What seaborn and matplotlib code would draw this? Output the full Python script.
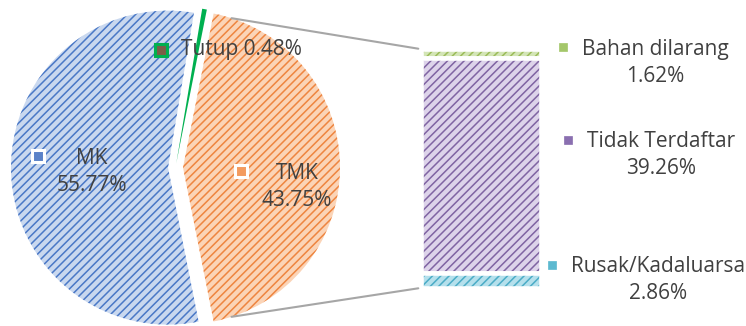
import matplotlib
matplotlib.use("Agg")
import matplotlib.pyplot as plt
from matplotlib.patches import ConnectionPatch
import numpy as np
import seaborn as sns

# pie data (order as drawn clockwise starting at the lower edge of TMK)
pie_labels = ["MK", "Tutup", "TMK"]
pie_values = [55.77, 0.48, 43.75]

# breakdown of TMK, top to bottom
bar_labels = ["Bahan dilarang", "Tidak Terdaftar", "Rusak/Kadaluarsa"]
bar_values = [1.62, 39.26, 2.86]

W, H = 746, 326
TEXT = "#404040"
FS = 15
LSP = 1.42

sns.set_theme(style="white")
plt.rcParams["font.family"] = ["Open Sans", "DejaVu Sans"]
plt.rcParams["hatch.linewidth"] = 1.1

fig = plt.figure(figsize=(W / 100, H / 100), dpi=100)

# pie axis in pixel coordinates (y measured from the bottom)
ax = fig.add_axes([0, 0, 1, 1])

pie_fill = ["#c9d8ef", "#00b050", "#fbd4b7"]
pie_hatch = ["#4a78c6", "#00b050", "#ee8540"]
wedges, _ = ax.pie(pie_values, colors=pie_fill, startangle=281.25, counterclock=False,
                   center=(175.5, H - 167.5), radius=157, explode=[7.5, 4, 7.5],
                   frame=True)
ax.set_xlim(0, W)
ax.set_ylim(0, H)
ax.set_aspect("equal")
ax.set_axis_off()
for w, hc in zip(wedges, pie_hatch):
    w.set_edgecolor(hc)
    w.set_linewidth(0)
    if hc != "#00b050":
        w.set_hatch("////")

# labels inside the pie
def key(x, y, face, edge, ms=8, mew=2.2):
    ax.plot([x], [H - y], marker="s", ms=ms, mfc=face, mec=edge, mew=mew, ls="none")

key(38, 156, "#5b82c8", "white")
ax.text(92, H - 172, "MK\n55.77%", ha="center", va="center", fontsize=FS,
        color=TEXT, linespacing=LSP)
key(241, 171, "#f39b5f", "white")
ax.text(297, H - 187, "TMK\n43.75%", ha="center", va="center", fontsize=FS,
        color=TEXT, linespacing=LSP)
key(161, 50, "#7b5e48", "#00b050", ms=8, mew=2.2)
ax.text(181, H - 50, "Tutup 0.48%", ha="left", va="center", fontsize=FS, color=TEXT)

# stacked bar for the TMK breakdown
bx = fig.add_axes([420.7 / W, (H - 288.3) / H, 120.6 / W, 239.6 / H])
bx.set_axis_off()
bar_fill = ["#d3e5b6", "#ddd3ea", "#b5e0ec"]
bar_hatch = ["#9bbb59", "#8064a2", "#4bacc6"]
total = sum(bar_values)
bottoms = total - np.cumsum(bar_values)
for v, b, fc, hc in zip(bar_values, bottoms, bar_fill, bar_hatch):
    bx.bar(0, v, bottom=b, width=1, color=fc, edgecolor=hc, linewidth=0, hatch="////")
    bx.bar(0, v, bottom=b, width=1, fill=False, edgecolor="white", linewidth=3.3)
bx.set_xlim(-0.5, 0.5)
bx.set_ylim(0, total)

# connector lines from TMK to the bar
tmk = wedges[2]
cx, cy = tmk.center
r = tmk.r
for ang, yb in [(72, total), (-72, 0)]:
    pa = (cx + r * np.cos(np.radians(ang)), cy + r * np.sin(np.radians(ang)))
    con = ConnectionPatch(xyA=pa, coordsA=ax.transData, xyB=(-0.52, yb),
                          coordsB=bx.transData, color="#a6a6a6", lw=1.5)
    fig.add_artist(con)

# labels on the right
bar_keys = ["#a4c76a", "#8a6fb0", "#5cb9d0"]
key_pos = [(563, 47), (568, 140), (552, 265)]
text_pos = [(655, 63), (661, 155), (658, 280)]
for lab, v, kc, (kx, ky), (tx, ty) in zip(bar_labels, bar_values, bar_keys, key_pos, text_pos):
    key(kx, ky, kc, kc, ms=5.5, mew=0.5)
    ax.text(tx, H - ty, f"{lab}\n{v:.2f}%", ha="center", va="center", fontsize=FS,
            color=TEXT, linespacing=LSP)

fig.savefig("out.png", dpi=100)
